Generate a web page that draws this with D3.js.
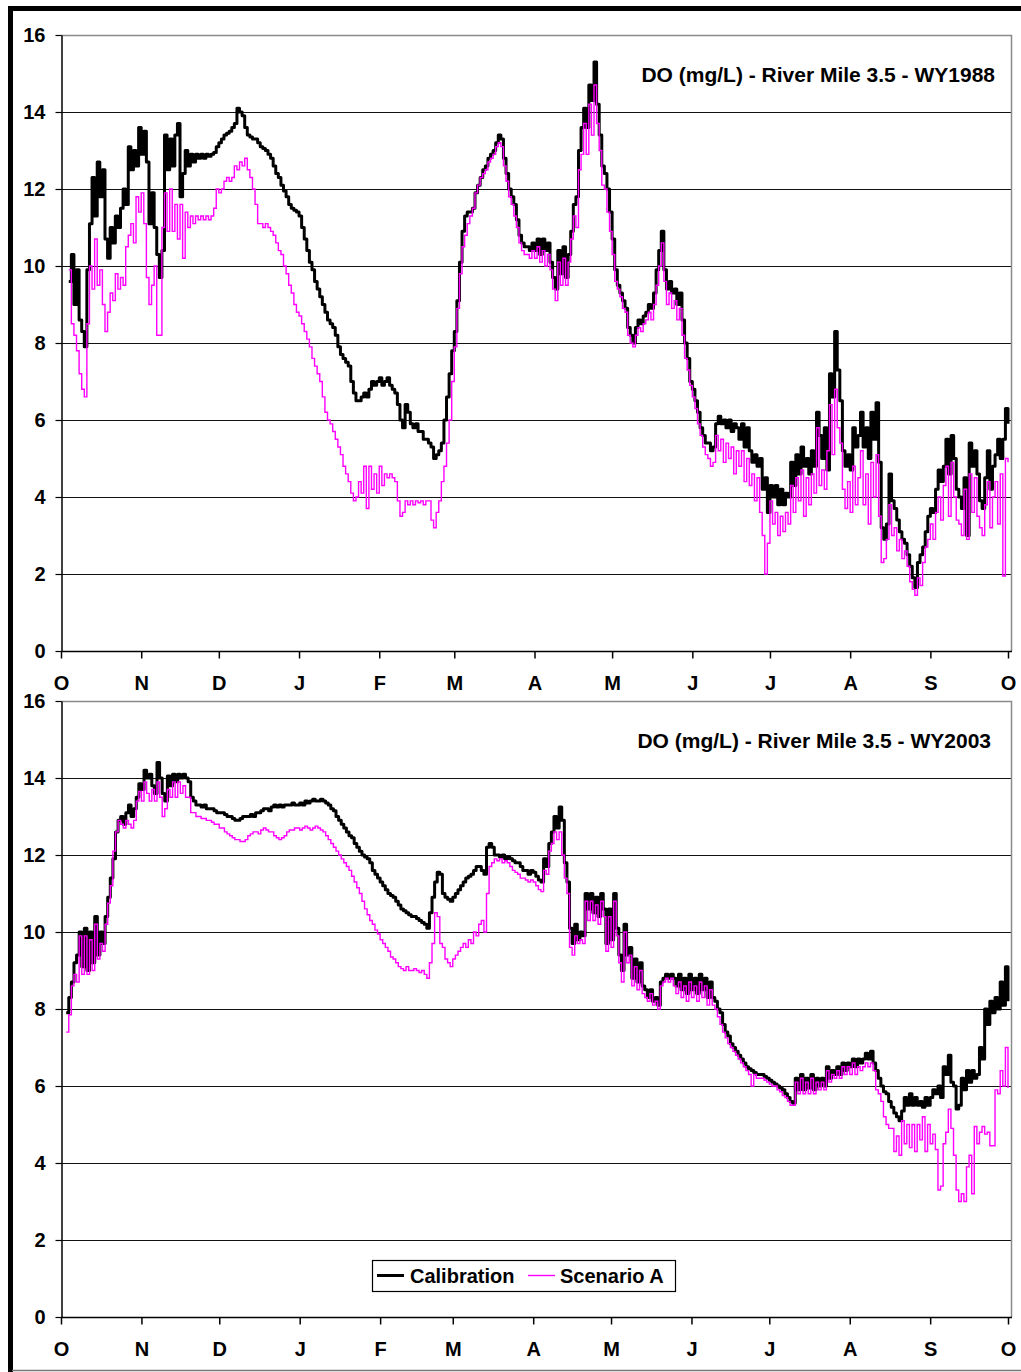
<!DOCTYPE html>
<html><head><meta charset="utf-8">
<script src="https://cdn.jsdelivr.net/npm/d3@7"></script>
<style>
body{margin:0;background:#fff}
text{font-family:"Liberation Sans",Arial,Helvetica,sans-serif;font-weight:bold;fill:#000}
</style>
</head><body>
<svg id="chart" width="1021" height="1372"></svg>
<script>
// ---------- DATA ----------
const monthLabels = ["O","N","D","J","F","M","A","M","J","J","A","S","O"];
const yTickValues = [0,2,4,6,8,10,12,14,16];
const seriesNames = ["Calibration","Scenario A"];
const titles = ["DO (mg/L) - River Mile 3.5 - WY1988","DO (mg/L) - River Mile 3.5 - WY2003"];
const waterYears = [1988, 2003];

// WY1988: daily values starting at day 3 of the water year (day 0 = Oct 1)
const start88 = 3;
const cal88 = [
9.6,10.3,9.0,9.9,8.6,8.3,7.9,9.9,11.1,12.3,
11.3,12.7,11.8,12.5,10.7,10.2,11.0,10.6,11.3,11.0,
11.5,12.0,11.6,13.1,12.5,13.0,12.6,13.6,12.9,13.5,
12.7,11.1,11.9,11.0,10.3,9.7,10.4,13.4,12.5,13.3,
12.6,13.4,13.7,11.8,12.4,13.0,12.6,12.9,12.7,12.9,
12.8,12.9,12.8,12.9,12.85,12.9,12.95,13.1,13.2,13.3,
13.4,13.45,13.5,13.6,13.7,14.1,14.0,13.9,13.6,13.4,
13.35,13.3,13.3,13.2,13.1,13.05,13.0,12.9,12.8,12.6,
12.4,12.3,12.1,11.95,11.8,11.6,11.5,11.45,11.4,11.3,
11.0,10.7,10.4,10.1,9.9,9.6,9.4,9.2,9.0,8.8,
8.6,8.5,8.4,8.2,7.9,7.7,7.6,7.5,7.4,7.0,
6.7,6.5,6.5,6.6,6.7,6.6,6.8,7.0,6.9,7.0,
7.1,6.9,7.0,7.1,6.9,6.8,6.7,6.4,6.0,5.8,
6.4,6.2,5.9,5.8,5.9,5.7,5.7,5.5,5.5,5.4,
5.3,5.0,5.1,5.2,5.4,6.0,6.6,7.2,7.8,8.3,
9.1,10.1,10.9,11.3,11.4,11.4,11.5,11.9,12.1,12.3,
12.5,12.6,12.8,12.9,13.0,13.2,13.4,13.3,12.8,12.4,
12.0,11.8,11.6,11.2,10.8,10.6,10.5,10.5,10.4,10.6,
10.4,10.7,10.3,10.7,10.4,10.6,10.1,9.7,9.4,10.4,
9.8,10.5,9.7,10.3,10.9,11.6,11.8,13.0,13.6,14.1,
13.6,14.7,14.3,15.3,14.2,13.4,12.6,12.4,12.0,11.4,
10.7,9.9,9.5,9.3,9.1,8.9,8.4,8.2,8.0,8.4,
8.6,8.5,8.7,8.8,9.0,8.9,9.3,9.9,10.4,10.9,
9.9,9.4,9.6,9.3,9.4,9.0,9.3,8.6,8.0,7.6,
7.0,6.8,6.5,6.2,5.8,5.6,5.4,5.4,5.2,5.3,
5.9,6.1,5.9,6.0,5.8,6.0,5.7,5.9,5.8,5.5,
5.9,5.3,5.8,5.2,4.9,5.1,4.8,5.0,4.2,4.5,
3.6,4.3,4.0,4.3,3.8,4.2,3.8,4.1,4.0,4.9,
4.3,5.1,4.6,5.3,4.8,5.0,4.6,5.2,4.8,6.2,
5.6,5.0,5.8,4.7,7.2,6.6,8.3,7.3,6.5,5.2,
4.8,5.1,4.7,5.8,5.3,5.6,6.2,5.3,5.8,5.0,
6.2,5.5,6.45,4.9,3.2,2.9,3.3,4.6,3.9,3.7,
3.4,3.1,2.9,2.8,2.5,2.2,1.9,1.65,2.3,2.5,
2.7,3.1,3.5,3.7,3.6,4.2,4.7,4.4,4.8,5.5,
4.6,5.6,5.0,4.2,4.0,3.7,4.5,3.0,5.4,4.8,
5.2,4.6,3.9,3.7,4.5,5.2,4.2,4.8,5.1,5.5,
5.0,5.5,6.3,5.9
];
const scen88 = [
9.9,8.5,8.2,7.8,7.2,6.8,6.6,8.5,10.0,9.4,
10.7,9.5,9.9,9.0,8.3,8.8,9.3,9.1,9.8,9.4,
9.7,9.5,10.5,10.8,11.1,10.6,11.8,11.4,11.9,11.1,
9.7,9.0,9.5,10.0,8.2,8.2,11.0,11.9,10.9,12.0,
10.9,11.6,10.7,11.6,10.2,11.4,11.0,11.3,11.1,11.3,
11.2,11.3,11.2,11.3,11.2,11.3,11.5,12.0,11.9,12.0,
12.2,12.3,12.2,12.3,12.6,12.5,12.7,12.6,12.8,12.5,
12.3,12.0,11.6,11.1,11.1,11.0,11.1,11.0,10.9,10.8,
10.6,10.4,10.3,10.0,9.8,9.5,9.3,9.0,8.8,8.7,
8.5,8.3,8.1,7.9,7.6,7.4,7.2,7.0,6.6,6.2,
6.0,5.9,5.7,5.5,5.3,5.1,4.8,4.6,4.4,4.1,
3.9,4.0,4.4,4.1,4.8,3.7,4.8,4.2,4.6,4.1,
4.8,4.3,4.6,4.5,4.6,4.5,4.4,3.9,3.5,3.6,
3.9,3.8,3.9,3.8,3.9,3.85,3.9,3.8,3.9,3.9,
3.4,3.2,3.6,3.9,4.4,4.8,5.4,6.0,7.0,7.9,
8.9,9.8,10.5,10.8,11.1,11.3,11.5,11.9,12.1,12.3,
12.4,12.5,12.7,12.8,12.9,13.1,13.2,13.1,12.6,12.2,
11.8,11.6,11.3,11.0,10.6,10.4,10.3,10.3,10.2,10.4,
10.2,10.5,10.1,10.4,10.0,10.3,9.9,9.4,9.1,10.1,
9.5,10.2,9.5,10.1,10.7,11.3,11.0,12.5,12.9,13.7,
12.9,14.2,13.4,14.7,13.7,13.0,12.1,12.0,11.4,10.9,
10.3,9.6,9.4,9.2,8.9,8.8,8.2,8.0,7.9,8.2,
8.4,8.3,8.5,8.6,8.8,8.6,9.0,9.5,10.0,10.6,
9.6,9.0,9.3,8.9,9.1,8.6,8.9,8.2,7.6,7.3,
6.9,6.6,6.3,5.9,5.6,5.3,5.1,5.0,4.8,4.9,
5.6,5.2,5.5,4.9,5.4,5.0,5.3,4.6,5.2,4.8,
5.2,4.4,5.0,4.3,4.6,3.9,4.5,3.6,3.0,2.0,
2.8,3.9,3.3,3.6,3.0,3.5,3.1,3.6,3.3,4.3,
3.6,4.5,3.9,4.7,3.5,4.5,3.8,4.6,4.1,5.8,
4.3,4.7,4.2,5.2,6.4,5.1,6.8,5.8,5.4,4.2,
3.7,4.4,3.6,4.8,3.8,4.5,5.2,3.8,4.6,3.3,
4.9,4.0,5.1,3.5,2.3,2.4,2.9,3.8,3.0,3.2,
2.6,2.9,2.4,2.6,2.2,1.8,1.6,1.45,1.9,1.7,
2.3,2.7,2.9,3.3,2.9,3.6,4.0,3.4,4.3,4.8,
3.5,4.9,4.0,3.4,3.3,3.0,4.2,2.9,4.6,3.6,
4.5,3.5,3.2,3.0,3.8,4.4,3.2,4.0,4.4,3.3,
4.6,1.95,5.0,4.9
];

// WY2003: daily values starting at day 2 of the water year
const start03 = 2;
const cal03 = [
7.9,8.3,8.7,9.2,9.4,10.0,9.1,10.1,9.0,10.0,
9.2,10.4,9.4,10.0,9.7,10.4,10.9,11.4,11.9,12.6,
12.9,13.0,12.8,13.1,13.3,13.0,13.2,13.5,13.85,13.7,
14.2,14.0,14.1,13.8,13.6,14.4,14.0,13.6,13.4,14.05,
13.8,14.1,13.9,14.1,14.0,14.1,14.0,13.9,13.5,13.4,
13.3,13.3,13.25,13.3,13.2,13.2,13.2,13.15,13.1,13.1,
13.1,13.05,13.0,13.0,12.95,12.9,12.9,12.95,13.0,13.0,
13.0,13.05,13.0,13.1,13.1,13.15,13.2,13.2,13.15,13.25,
13.3,13.25,13.3,13.25,13.3,13.3,13.3,13.35,13.3,13.3,
13.35,13.3,13.4,13.35,13.4,13.45,13.4,13.4,13.45,13.4,
13.35,13.3,13.2,13.15,13.0,12.9,12.8,12.7,12.6,12.5,
12.45,12.3,12.2,12.1,12.0,11.95,11.9,11.8,11.6,11.5,
11.4,11.3,11.2,11.1,11.0,10.95,10.9,10.8,10.7,10.6,
10.55,10.5,10.45,10.4,10.4,10.35,10.3,10.25,10.2,10.1,
10.5,10.9,11.3,11.55,11.5,11.0,10.9,10.85,10.8,10.9,
11.0,11.1,11.2,11.3,11.4,11.45,11.5,11.6,11.7,11.7,
11.6,11.5,12.2,12.3,12.2,12.0,12.0,11.95,12.0,11.9,
11.95,11.9,11.85,11.8,11.8,11.7,11.6,11.6,11.5,11.6,
11.55,11.45,11.35,11.3,11.9,11.7,12.3,12.6,13.0,12.7,
13.25,12.9,11.8,11.3,10.1,9.7,10.2,9.8,10.0,9.9,
11.0,10.6,11.0,10.5,10.9,10.4,11.0,10.6,9.7,10.6,
9.8,11.0,10.1,9.4,9.0,10.2,9.4,9.6,8.8,9.3,
8.7,9.2,8.6,8.5,8.3,8.5,8.2,8.3,8.1,8.7,
8.8,8.9,8.8,8.9,8.8,8.6,8.9,8.5,8.8,8.4,
8.9,8.5,8.8,8.4,8.9,8.5,8.8,8.3,8.7,8.3,
8.2,8.0,7.9,7.6,7.4,7.3,7.1,7.0,6.9,6.8,
6.7,6.6,6.5,6.45,6.4,6.35,6.3,6.3,6.3,6.25,
6.2,6.15,6.1,6.05,6.0,5.95,5.9,5.8,5.7,5.6,
5.55,6.2,5.9,6.3,5.9,6.2,5.95,6.3,5.9,6.2,
6.0,6.2,6.0,6.5,6.2,6.4,6.3,6.5,6.3,6.6,
6.4,6.6,6.5,6.7,6.5,6.7,6.6,6.7,6.85,6.7,
6.9,6.6,6.4,6.2,6.0,5.85,5.8,5.6,5.45,5.3,
5.2,5.1,5.35,5.7,5.5,5.8,5.5,5.7,5.5,5.6,
5.45,5.7,5.5,5.7,5.9,5.8,6.0,5.7,6.5,6.3,
6.8,6.1,6.0,5.4,5.5,6.2,5.9,6.4,6.1,6.4,
6.2,6.3,7.0,6.7,8.0,7.6,8.2,7.9,8.3,8.0,
8.7,8.1,9.1,8.2
];
const scen03 = [
7.4,7.85,8.6,8.9,8.7,9.9,8.9,9.9,8.9,9.8,
9.0,10.2,9.3,9.7,9.5,10.2,10.75,11.2,12.1,12.6,
12.9,12.8,12.7,12.9,12.8,12.7,12.9,13.4,13.65,13.4,
13.9,13.6,13.4,13.7,13.4,13.9,13.5,13.0,13.2,13.7,
13.5,13.9,13.5,13.9,13.6,13.8,13.5,13.5,13.1,13.1,
13.0,13.0,12.95,12.95,12.9,12.9,12.85,12.8,12.8,12.7,
12.7,12.6,12.55,12.5,12.45,12.4,12.4,12.35,12.35,12.4,
12.5,12.55,12.6,12.6,12.55,12.65,12.7,12.65,12.6,12.6,
12.5,12.45,12.4,12.45,12.5,12.6,12.65,12.65,12.7,12.7,
12.65,12.7,12.75,12.7,12.65,12.7,12.75,12.7,12.65,12.6,
12.5,12.4,12.3,12.2,12.1,12.0,11.9,11.8,11.7,11.6,
11.45,11.3,11.15,11.0,10.8,10.6,10.45,10.3,10.2,10.05,
9.95,9.8,9.7,9.6,9.5,9.35,9.3,9.2,9.1,9.05,
9.0,9.1,9.0,9.0,9.05,9.0,8.95,9.0,8.9,8.8,
9.2,9.7,10.5,10.4,9.7,9.6,9.3,9.2,9.1,9.3,
9.4,9.5,9.6,9.7,9.6,9.8,9.7,10.0,9.9,10.2,
10.3,10.0,11.0,11.7,11.8,11.9,11.85,11.9,11.8,11.85,
11.8,11.7,11.6,11.55,11.5,11.4,11.4,11.35,11.3,11.35,
11.3,11.2,11.1,11.05,11.6,11.5,12.1,12.3,12.6,12.4,
12.6,12.0,11.4,11.0,9.6,9.4,9.9,9.7,9.8,9.7,
10.8,10.3,10.8,10.3,10.7,10.2,10.8,10.4,9.5,10.4,
9.6,10.8,9.9,9.2,8.7,10.0,9.2,9.4,8.6,9.1,
8.5,9.0,8.4,8.3,8.2,8.4,8.1,8.2,8.0,8.6,
8.7,8.8,8.7,8.8,8.6,8.4,8.7,8.3,8.6,8.2,
8.7,8.3,8.6,8.2,8.7,8.3,8.6,8.1,8.5,8.1,
8.0,7.8,7.6,7.4,7.25,7.1,7.0,6.9,6.8,6.7,
6.6,6.5,6.4,6.3,6.0,6.3,6.2,6.2,6.2,6.15,
6.1,6.05,6.0,6.0,5.9,5.85,5.75,5.7,5.6,5.5,
5.5,6.1,5.8,6.2,5.8,6.1,5.8,6.2,5.8,6.1,
5.9,6.1,5.9,6.4,6.1,6.3,6.2,6.4,6.2,6.5,
6.3,6.5,6.3,6.6,6.3,6.5,6.4,6.5,6.6,6.5,
6.6,6.4,5.9,5.8,5.6,5.2,5.0,4.9,4.9,4.3,
4.7,4.2,5.1,4.5,5.0,4.4,5.0,4.3,5.0,4.6,
5.2,4.3,5.0,4.5,4.75,4.35,3.3,3.4,4.5,4.8,
5.4,4.9,4.2,3.3,3.0,3.2,3.0,3.9,4.2,3.2,
4.95,4.5,4.8,4.95,4.75,4.8,4.45,4.45,5.9,5.8,
6.4,6.0,7.0,5.95
];

// ---------- DRAW ----------
const svg = d3.select("#chart");
const FS = 20;

// outer frame
svg.append("path").attr("d","M10.5,1380V8.5H1030")
  .attr("fill","none").attr("stroke","#000").attr("stroke-width",5);
svg.append("line").attr("x1",12).attr("x2",1021).attr("y1",1370.5).attr("y2",1370.5)
  .attr("stroke","#777").attr("stroke-width",1.5);

const X0 = 61, X1 = 1008, XR = 1011;

function drawPanel(p){
  const wyStart = new Date(Date.UTC(p.wy-1, 9, 1));
  const wyEnd = new Date(Date.UTC(p.wy, 9, 1));
  const x = d3.scaleUtc().domain([wyStart, wyEnd]).range([X0, X1]);
  const y = d3.scaleLinear().domain([0,16]).range([p.bottom, p.top]);
  const g = svg.append("g");

  // gridlines
  g.selectAll(".grid").data(yTickValues.filter(v => v>0 && v<16)).enter().append("line")
    .attr("x1",X0).attr("x2",XR).attr("y1",d=>Math.round(y(d))+0.5).attr("y2",d=>Math.round(y(d))+0.5)
    .attr("stroke","#111").attr("stroke-width",1);
  // top + right border (gray)
  g.append("path").attr("d",`M${X0},${Math.round(y(16))+0.5}H${XR+0.5}V${p.bottom}`)
    .attr("fill","none").attr("stroke","#8a8a8a").attr("stroke-width",1.5);

  const monthDates = d3.range(13).map(i => new Date(Date.UTC(p.wy-1, 9+i, 1)));
  const line = d3.line().x(d=>x(d[0])).y(d=>y(d[1])).curve(d3.curveStepAfter);
  const toPts = (arr) => arr.map((v,i)=>[new Date(Date.UTC(p.wy-1,9,1+p.start+i)), v]);

  g.append("path").datum(toPts(p.cal)).attr("d",line)
    .attr("fill","none").attr("stroke","#000").attr("stroke-width",3).attr("stroke-linejoin","round");
  g.append("path").datum(toPts(p.scen)).attr("d",line)
    .attr("fill","none").attr("stroke","#ff00ff").attr("stroke-width",1.4);

  // axes
  const ax = g.append("g").attr("transform",`translate(0,${Math.round(y(0))+0.5})`)
    .call(d3.axisBottom(x).tickValues(monthDates).tickFormat((d,i)=>monthLabels[i])
      .tickSize(7).tickSizeOuter(0).tickPadding(17));
  ax.select(".domain").remove();
  ax.append("line").attr("x1",X0).attr("x2",XR+1).attr("stroke","#000").attr("stroke-width",1.5);
  ax.selectAll(".tick line").attr("stroke","#000").attr("stroke-width",1.5);
  ax.selectAll("text").attr("font-size",FS).attr("font-family",null).style("fill","#000");

  const ay = g.append("g").attr("transform",`translate(${X0+0.5},0)`)
    .call(d3.axisLeft(y).tickValues(yTickValues).tickSize(6).tickSizeOuter(0).tickPadding(10));
  ay.select(".domain").attr("stroke","#000").attr("stroke-width",1.5);
  ay.selectAll(".tick line").attr("stroke","#000").attr("stroke-width",1.2);
  ay.selectAll("text").attr("font-size",FS).attr("font-family",null).style("fill","#000");

  // title
  g.append("text").attr("x",p.titleX).attr("y",p.titleY).attr("text-anchor","end")
    .attr("font-size",21).text(p.title);
}

drawPanel({wy:waterYears[0], top:35, bottom:651, start:start88, cal:cal88, scen:scen88,
  title:titles[0], titleX:995, titleY:82});
drawPanel({wy:waterYears[1], top:701, bottom:1317, start:start03, cal:cal03, scen:scen03,
  title:titles[1], titleX:991, titleY:748});

// legend
const lg = svg.append("g");
lg.append("rect").attr("x",372.5).attr("y",1260.5).attr("width",303).attr("height",31)
  .attr("fill","#fff").attr("stroke","#000").attr("stroke-width",1.2);
const legendItems = [
  {name:seriesNames[0], color:"#000", w:3, lx:377, tx:410},
  {name:seriesNames[1], color:"#ff00ff", w:1.4, lx:528, tx:560}
];
legendItems.forEach(it=>{
  lg.append("line").attr("x1",it.lx).attr("x2",it.lx+27).attr("y1",1275.5).attr("y2",1275.5)
    .attr("stroke",it.color).attr("stroke-width",it.w);
  lg.append("text").attr("x",it.tx).attr("y",1283).attr("font-size",FS).text(it.name);
});
</script>
</body></html>
